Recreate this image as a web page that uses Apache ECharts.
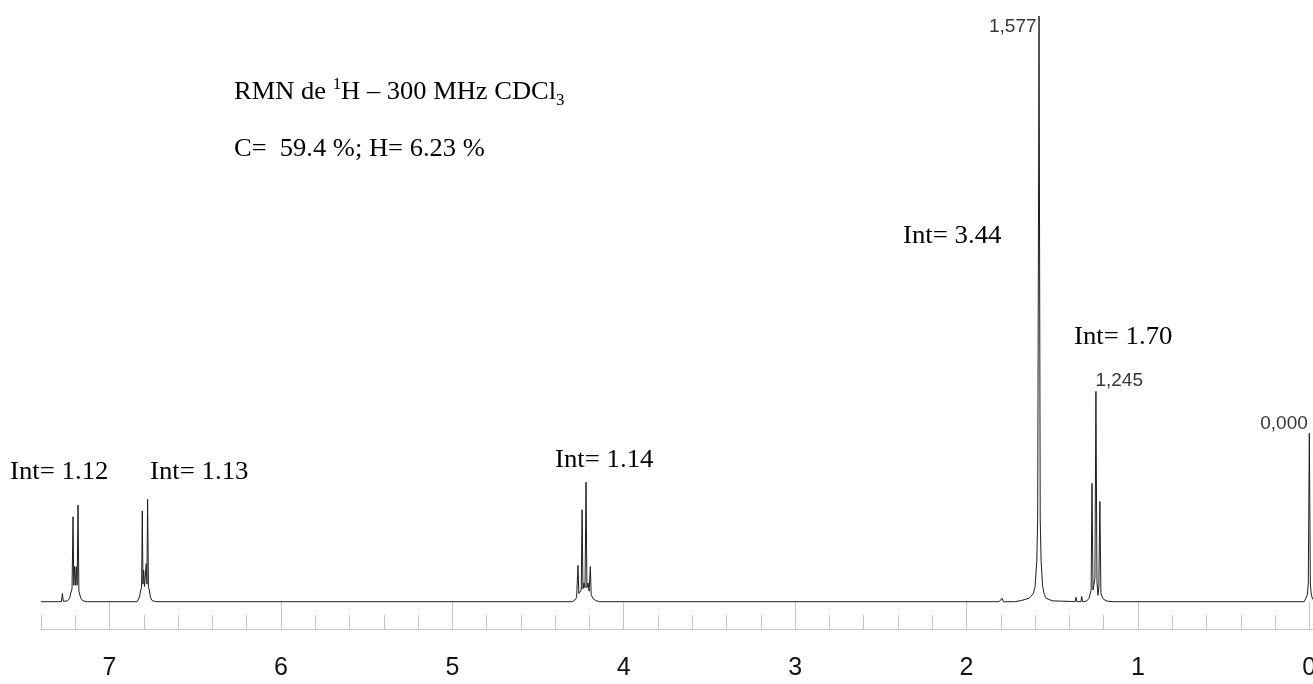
<!DOCTYPE html>
<html>
<head>
<meta charset="utf-8">
<script src="https://cdn.jsdelivr.net/npm/echarts@6/dist/echarts.min.js"></script>
<style>
  html, body { margin: 0; padding: 0; background: #fff; }
  #chart { width: 1313px; height: 684px; }
</style>
</head>
<body>
<div id="chart"></div>
<script>
// 1H NMR trace: chemical shift (ppm, descending) and relative intensity (tallest line = 100)
const shift = [
  7.400, 7.300, 7.281, 7.275, 7.270, 7.245, 7.233, 7.226, 7.219, 7.213, 7.209, 7.204, 7.199,
  7.194, 7.189, 7.184, 7.179, 7.174, 7.168, 7.155, 7.130,
  6.840, 6.825, 6.818, 6.813, 6.809, 6.805, 6.801, 6.796, 6.790, 6.786, 6.782, 6.778, 6.773,
  6.768, 6.762, 6.752, 6.730,
  4.300, 4.285, 4.275, 4.267, 4.262, 4.255, 4.248, 4.243, 4.238, 4.232, 4.226, 4.220, 4.215,
  4.208, 4.202, 4.195, 4.190, 4.180, 4.165, 4.140,
  1.810, 1.793, 1.785,
  1.720, 1.680, 1.634, 1.610, 1.600, 1.590, 1.585, 1.577, 1.570, 1.565, 1.556, 1.546, 1.536,
  1.500, 1.450, 1.400, 1.366, 1.361, 1.356, 1.333, 1.328, 1.323,
  1.300, 1.285, 1.279, 1.273, 1.268, 1.262, 1.256, 1.251, 1.245, 1.239, 1.233, 1.228, 1.222,
  1.216, 1.209, 1.200, 1.180, 1.150,
  0.030, 0.019, 0.012, 0.006, 0.000, -0.006, -0.012, -0.020
];
const intensity = [
  0, 0, 0.05, 1.4, 0.05, 0.15, 0.6, 1.5, 2.2, 14.5, 2.8, 6.0, 2.8,
  6.0, 2.8, 16.5, 1.8, 1.6, 0.6, 0.15, 0,
  0, 0.8, 2.0, 2.4, 15.5, 3.0, 5.4, 2.6, 2.8, 6.5, 3.0, 17.5, 2.4,
  2.0, 0.8, 0.2, 0,
  0, 0.3, 0.7, 6.2, 1.4, 1.6, 2.0, 15.7, 2.2, 3.2, 2.4, 20.4, 2.4,
  3.2, 1.8, 6.0, 1.2, 0.6, 0.2, 0,
  0, 0.6, 0,
  0, 0.2, 0.6, 1.4, 2.6, 7.0, 14.0, 100, 14.0, 7.0, 2.6, 1.2, 0.6,
  0.15, 0.1, 0.05, 0, 0.75, 0, 0, 0.9, 0,
  0.1, 0.6, 0.85, 2.0, 20.2, 2.0, 1.8, 4.0, 35.9, 3.5, 1.1, 2.5, 17.1,
  1.5, 0.85, 0.4, 0.1, 0,
  0, 0.1, 1.1, 3.0, 28.75, 3.0, 1.1, 0.4
];

// lines whose shift is printed next to them
const labelledShifts = [1.577, 1.245, 0.000];

// integrals written above the multiplets
const integrals = ['1.12', '1.13', '1.14', '3.44', '1.70'];

// whole-ppm tick labels
const ppmTicks = [0, 1, 2, 3, 4, 5, 6, 7];

const trace = shift.map((s, i) => [s, intensity[i]]);
const heightAt = s => intensity[shift.indexOf(s)];

const AXIS_GREY = '#c6c6c6';
const SANS = 'Arial, "Liberation Sans", sans-serif';
const SERIF = '"Times New Roman", "Liberation Serif", serif';

// placement of the shift labels relative to their line tops
const shiftLabelPlacement = [
  { align: 'right', position: [-2, 11] },
  { align: 'left',  position: [0, -10] },
  { align: 'right', position: [-1, -9] }
];

// anchor (left, middle) of each integral text
const integralAnchors = [[10, 472], [150, 472], [555, 460], [903, 236], [1074, 337]];

const chart = echarts.init(document.getElementById('chart'), null, { renderer: 'canvas' });

const axisCommon = {
  type: 'value',
  inverse: true,
  min: -0.2,
  max: 7.4,
  interval: 0.2,
  position: 'bottom',
  splitLine: { show: false },
  gridIndex: 0
};

chart.setOption({
  animation: false,
  backgroundColor: '#fff',
  grid: {
    left: 41, width: 1302.6, top: 10, bottom: 55,
    containLabel: false, outerBoundsMode: 'none'
  },
  xAxis: [
    Object.assign({}, axisCommon, {
      axisLine: { show: true, onZero: false, lineStyle: { color: AXIS_GREY, width: 1 } },
      axisTick: { show: true, inside: true, length: 14, lineStyle: { color: AXIS_GREY, width: 1 } },
      axisLabel: { show: false }
    }),
    Object.assign({}, axisCommon, {
      axisLine: { show: false },
      axisTick: {
        show: true, inside: false, length: 21, customValues: ppmTicks,
        lineStyle: { color: AXIS_GREY, width: 1 }
      },
      axisLabel: {
        show: true, customValues: ppmTicks, margin: 27,
        fontFamily: SANS, fontSize: 25, color: '#111',
        formatter: v => String(Math.round(v))
      }
    })
  ],
  yAxis: { type: 'value', min: -4.66, max: 101.02, show: false },
  series: [
    {
      type: 'line',
      data: trace,
      xAxisIndex: 0,
      showSymbol: false,
      symbol: 'none',
      sampling: null,
      lineStyle: { color: '#1e1e1e', width: 1 },
      silent: true
    },
    {
      type: 'scatter',
      xAxisIndex: 0,
      symbolSize: 1,
      itemStyle: { color: 'rgba(0,0,0,0)' },
      silent: true,
      data: labelledShifts.map((s, i) => ({
        value: [s, heightAt(s)],
        label: {
          show: true,
          position: shiftLabelPlacement[i].position,
          align: shiftLabelPlacement[i].align,
          verticalAlign: 'middle'
        }
      })),
      label: {
        show: true,
        fontFamily: SANS,
        fontSize: 19,
        color: '#000',
        formatter: p => p.value[0].toFixed(3).replace('.', ',')
      }
    }
  ],
  graphic: [
    {
      type: 'text', x: 234, y: 92.5, scaleX: 1.06,
      style: {
        text: '{a|RMN de }{s|1}{a|H – 300 MHz CDCl}{b|3}',
        verticalAlign: 'middle',
        fill: '#000',
        rich: {
          a: { fontFamily: SERIF, fontSize: 25, lineHeight: 32, verticalAlign: 'middle', color: '#000' },
          s: { fontFamily: SERIF, fontSize: 16, verticalAlign: 'top', color: '#000' },
          b: { fontFamily: SERIF, fontSize: 16, verticalAlign: 'bottom', color: '#000' }
        }
      }
    },
    {
      type: 'text', x: 234, y: 149, scaleX: 1.06,
      style: {
        text: 'C=  59.4 %; H= 6.23 %',
        fontFamily: SERIF, fontSize: 25, verticalAlign: 'middle', fill: '#000'
      }
    }
  ].concat(integrals.map((v, i) => ({
    type: 'text',
    x: integralAnchors[i][0],
    y: integralAnchors[i][1],
    scaleX: 1.03,
    style: {
      text: 'Int= ' + v,
      fontFamily: SERIF, fontSize: 26, verticalAlign: 'middle', fill: '#000'
    }
  })))
});
</script>
</body>
</html>
